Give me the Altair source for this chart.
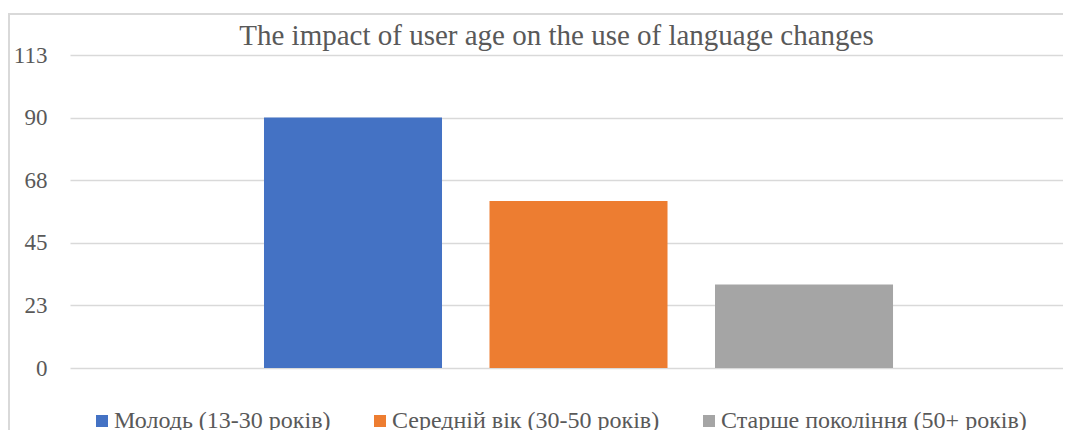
import altair as alt
import pandas as pd

# ---- data ----
series = ["Молодь (13-30 років)", "Середній вік (30-50 років)", "Старше покоління (50+ років)"]
values = [90, 60, 30]
colors = ["#4472C4", "#ED7D31", "#A5A5A5"]
tick_values = [0, 22.5, 45, 67.5, 90, 112.5]
tick_labels = ["0", "23", "45", "68", "90", "113"]
title_text = "The impact of user age on the use of language changes"

df = pd.DataFrame({"series": series, "value": values})


def _key(v):
    s = str(v)
    return s[:-2] if s.endswith(".0") else s


label_map = ", ".join(f"'{_key(v)}': '{l}'" for v, l in zip(tick_values, tick_labels))
label_expr = "({" + label_map + "})[toString(datum.value)]"

FONT = "Liberation Serif"
GRID = "#d9d9d9"
TEXT = "#595959"

bars = alt.Chart(df).mark_bar().encode(
    x=alt.X("series:N", sort=series, axis=None,
            scale=alt.Scale(paddingInner=0.2106, paddingOuter=0.807, align=0.533)),
    y=alt.Y("value:Q",
            scale=alt.Scale(domain=[0, 112.5], nice=False, zero=True),
            axis=alt.Axis(values=tick_values, labelExpr=label_expr, title=None,
                          domain=False, ticks=False, grid=True, gridColor=GRID,
                          gridWidth=1.6, labelFont=FONT, labelFontSize=23,
                          labelColor=TEXT, labelPadding=23)),
    color=alt.Color("series:N", sort=series,
                    scale=alt.Scale(domain=series, range=colors),
                    legend=alt.Legend(title=None, orient="none", legendX=20, legendY=354,
                                      direction="horizontal", symbolType="square",
                                      symbolSize=144, symbolStrokeWidth=0,
                                      labelFont=FONT, labelFontSize=24, labelColor=TEXT,
                                      labelOffset=0, columnPadding=37, padding=0,
                                      labelLimit=0)),
)

one = alt.Data(values=[{"k": 1}])
frame_top = alt.Chart(one).mark_rule(color=GRID, strokeWidth=2).encode(
    x=alt.value(-62), x2=alt.value(993), y=alt.value(-41))
frame_left = alt.Chart(one).mark_rule(color=GRID, strokeWidth=2).encode(
    x=alt.value(-61), y=alt.value(-41), y2=alt.value(380))
title = alt.Chart(one).mark_text(font=FONT, fontSize=29, color=TEXT, align="center",
                                 baseline="alphabetic").encode(
    x=alt.value(486.5), y=alt.value(-10), text=alt.value(title_text))

chart = alt.layer(frame_top, frame_left, bars, title).properties(
    width=993, height=313,
    autosize=alt.AutoSizeParams(type="none"),
    padding={"left": 62, "top": 47, "right": 0, "bottom": 62},
).configure(font=FONT).configure_view(stroke=None)

chart.save("out.html", embed_options={"renderer": "svg", "actions": False})
